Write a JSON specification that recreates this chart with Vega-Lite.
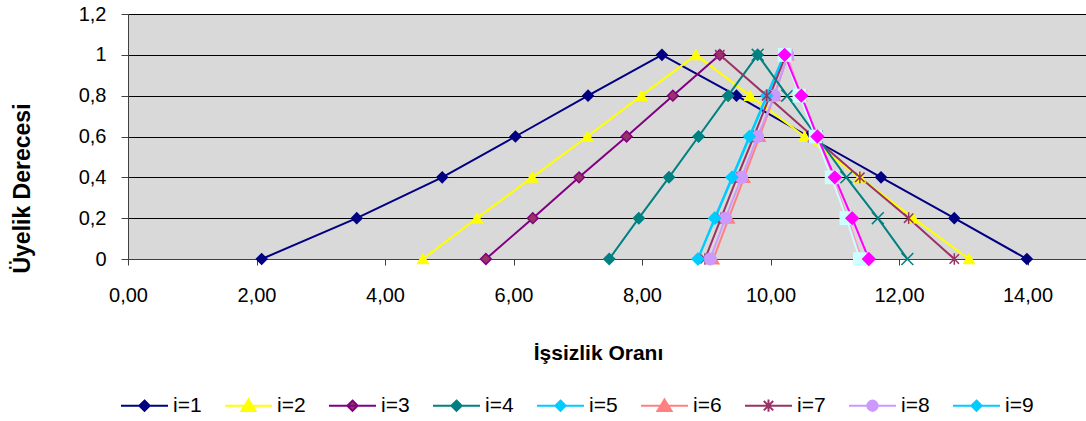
{
  "$schema": "https://vega.github.io/schema/vega-lite/v6.json",
  "width": 958,
  "height": 245,
  "autosize": {"type": "none"},
  "padding": {"left": 128, "top": 14, "right": 0, "bottom": 162},
  "background": "white",
  "config": {
    "view": {"fill": "#d9d9d9", "stroke": null},
    "font": "Liberation Sans"
  },
  "data": {
    "values": [
      {"s": "i=1", "x": 2.08, "y": 0}, {"s": "i=1", "x": 3.56, "y": 0.2}, {"s": "i=1", "x": 4.89, "y": 0.4}, {"s": "i=1", "x": 6.03, "y": 0.6}, {"s": "i=1", "x": 7.16, "y": 0.8}, {"s": "i=1", "x": 8.31, "y": 1}, {"s": "i=1", "x": 9.47, "y": 0.8}, {"s": "i=1", "x": 10.59, "y": 0.6}, {"s": "i=1", "x": 11.72, "y": 0.4}, {"s": "i=1", "x": 12.86, "y": 0.2}, {"s": "i=1", "x": 13.99, "y": 0},
      {"s": "i=2", "x": 4.59, "y": 0}, {"s": "i=2", "x": 5.43, "y": 0.2}, {"s": "i=2", "x": 6.29, "y": 0.4}, {"s": "i=2", "x": 7.15, "y": 0.6}, {"s": "i=2", "x": 7.99, "y": 0.8}, {"s": "i=2", "x": 8.84, "y": 1}, {"s": "i=2", "x": 9.68, "y": 0.8}, {"s": "i=2", "x": 10.53, "y": 0.6}, {"s": "i=2", "x": 11.39, "y": 0.4}, {"s": "i=2", "x": 12.22, "y": 0.2}, {"s": "i=2", "x": 13.09, "y": 0},
      {"s": "i=3", "x": 5.57, "y": 0}, {"s": "i=3", "x": 6.30, "y": 0.2}, {"s": "i=3", "x": 7.02, "y": 0.4}, {"s": "i=3", "x": 7.76, "y": 0.6}, {"s": "i=3", "x": 8.48, "y": 0.8}, {"s": "i=3", "x": 9.21, "y": 1},
      {"s": "i=4", "x": 7.49, "y": 0}, {"s": "i=4", "x": 7.95, "y": 0.2}, {"s": "i=4", "x": 8.42, "y": 0.4}, {"s": "i=4", "x": 8.88, "y": 0.6}, {"s": "i=4", "x": 9.34, "y": 0.8}, {"s": "i=4", "x": 9.80, "y": 1},
      {"s": "i=5", "x": 8.87, "y": 0}, {"s": "i=5", "x": 9.14, "y": 0.2}, {"s": "i=5", "x": 9.41, "y": 0.4}, {"s": "i=5", "x": 9.68, "y": 0.6}, {"s": "i=5", "x": 9.95, "y": 0.8}, {"s": "i=5", "x": 10.22, "y": 1},
      {"s": "i=6", "x": 9.11, "y": 0}, {"s": "i=6", "x": 9.35, "y": 0.2}, {"s": "i=6", "x": 9.59, "y": 0.4}, {"s": "i=6", "x": 9.83, "y": 0.6}, {"s": "i=6", "x": 10.06, "y": 0.8}, {"s": "i=6", "x": 10.27, "y": 1},
      {"s": "i=7", "x": 8.98, "y": 0}, {"s": "i=7", "x": 9.23, "y": 0.2}, {"s": "i=7", "x": 9.48, "y": 0.4}, {"s": "i=7", "x": 9.74, "y": 0.6}, {"s": "i=7", "x": 9.99, "y": 0.8}, {"s": "i=7", "x": 10.24, "y": 1},
      {"s": "i=8", "x": 9.06, "y": 0}, {"s": "i=8", "x": 9.30, "y": 0.2}, {"s": "i=8", "x": 9.55, "y": 0.4}, {"s": "i=8", "x": 9.80, "y": 0.6}, {"s": "i=8", "x": 10.06, "y": 0.8}, {"s": "i=8", "x": 10.27, "y": 1},
      {"s": "i=9", "x": 8.87, "y": 0}, {"s": "i=9", "x": 9.13, "y": 0.2}, {"s": "i=9", "x": 9.40, "y": 0.4}, {"s": "i=9", "x": 9.67, "y": 0.6}, {"s": "i=9", "x": 9.94, "y": 0.8}, {"s": "i=9", "x": 10.21, "y": 1},
      {"s": "r3", "x": 9.21, "y": 1}, {"s": "r3", "x": 9.94, "y": 0.8}, {"s": "r3", "x": 10.66, "y": 0.6}, {"s": "r3", "x": 11.39, "y": 0.4}, {"s": "r3", "x": 12.15, "y": 0.2}, {"s": "r3", "x": 12.86, "y": 0},
      {"s": "r4", "x": 9.80, "y": 1}, {"s": "r4", "x": 10.26, "y": 0.8}, {"s": "r4", "x": 10.72, "y": 0.6}, {"s": "r4", "x": 11.18, "y": 0.4}, {"s": "r4", "x": 11.67, "y": 0.2}, {"s": "r4", "x": 12.13, "y": 0},
      {"s": "r7", "x": 10.25, "y": 1}, {"s": "r7", "x": 10.48, "y": 0.8}, {"s": "r7", "x": 10.71, "y": 0.6}, {"s": "r7", "x": 10.97, "y": 0.4}, {"s": "r7", "x": 11.20, "y": 0.2}, {"s": "r7", "x": 11.42, "y": 0},
      {"s": "r6", "x": 10.22, "y": 1}, {"s": "r6", "x": 10.45, "y": 0.8}, {"s": "r6", "x": 10.70, "y": 0.6}, {"s": "r6", "x": 10.95, "y": 0.4}, {"s": "r6", "x": 11.18, "y": 0.2}, {"s": "r6", "x": 11.39, "y": 0},
      {"s": "r5", "x": 10.22, "y": 1}, {"s": "r5", "x": 10.48, "y": 0.8}, {"s": "r5", "x": 10.73, "y": 0.6}, {"s": "r5", "x": 11.00, "y": 0.4}, {"s": "r5", "x": 11.27, "y": 0.2}, {"s": "r5", "x": 11.53, "y": 0}
    ]
  },
  "encoding": {
    "x": {
      "field": "x", "type": "quantitative",
      "scale": {"domain": [0, 14.91], "nice": false, "zero": false},
      "axis": {
        "title": "İşsizlik Oranı",
        "values": [0, 2, 4, 6, 8, 10, 12, 14],
        "labelExpr": "replace(format(datum.value, '.2f'), '.', ',')",
        "grid": false,
        "domainColor": "#404040", "tickColor": "#404040", "tickSize": 6,
        "labelFontSize": 20, "labelColor": "#000000", "labelPadding": 20,
        "labelFlush": false,
        "titleFontSize": 21, "titleFontWeight": "bold", "titleColor": "#000000",
        "titleX": 470, "titleY": 100, "titleBaseline": "alphabetic", "titleAnchor": "middle"
      }
    },
    "y": {
      "field": "y", "type": "quantitative",
      "scale": {"domain": [0, 1.2], "nice": false},
      "axis": {
        "title": "Üyelik Derecesi",
        "values": [0, 0.2, 0.4, 0.6, 0.8, 1, 1.2],
        "labelExpr": "replace(format(datum.value, '.1~f'), '.', ',')",
        "grid": true, "gridColor": "#000000", "gridWidth": 1, "gridOpacity": 1,
        "domainColor": "#404040", "tickColor": "#404040", "tickSize": 7,
        "labelFontSize": 20, "labelColor": "#000000", "labelPadding": 15,
        "titleFontSize": 23, "titleFontWeight": "bold", "titleColor": "#000000",
        "titleX": -99, "titleY": 174, "titleAngle": -90, "titleBaseline": "alphabetic", "titleAlign": "center"
      }
    }
  },
  "layer": [
    {
      "mark": {"type": "line", "strokeWidth": 2},
      "encoding": {
        "stroke": {
          "field": "s", "type": "nominal", "legend": null,
          "scale": {
            "domain": ["i=1", "i=2", "i=3", "i=4", "i=5", "i=6", "i=7", "i=8", "i=9", "r3", "r4", "r7", "r6", "r5"],
            "range": ["#000080", "#FFFF00", "#800080", "#008080", "#00CCFF", "#FF8080", "#993366", "#CC99FF", "#00CCFF", "#993366", "#008080", "#FF99CC", "#CCFFFF", "#FF00FF"]
          }
        }
      }
    },
    {
      "mark": {"type": "point", "filled": true, "opacity": 1, "strokeWidth": 1.5},
      "encoding": {
        "stroke": {"field": "s", "type": "nominal", "legend": null},
        "size": {
          "field": "s", "type": "nominal", "legend": null,
          "scale": {
            "domain": ["i=1", "i=2", "i=3", "i=4", "i=5", "i=6", "i=7", "i=8", "i=9", "r3", "r4", "r7", "r6", "r5"],
            "range": [110, 150, 110, 110, 110, 150, 120, 120, 110, 120, 110, 110, 100, 110]
          }
        },
        "shape": {
          "field": "s", "type": "nominal", "legend": null,
          "scale": {
            "domain": ["i=1", "i=2", "i=3", "i=4", "i=5", "i=6", "i=7", "i=8", "i=9", "r3", "r4", "r7", "r6", "r5"],
            "range": ["diamond", "triangle-up", "diamond", "diamond", "diamond", "triangle-up", "M-0.8,-0.8L0.8,0.8M-0.8,0.8L0.8,-0.8M0,-1V1", "circle", "diamond", "M-0.8,-0.8L0.8,0.8M-0.8,0.8L0.8,-0.8M0,-1V1", "M-1,-1L1,1M-1,1L1,-1", "M-1,-1L1,1M-1,1L1,-1", "square", "diamond"]
          }
        },
        "fill": {
          "field": "s", "type": "nominal",
          "scale": {
            "domain": ["r5", "r6", "r7", "r4", "r3", "i=1", "i=2", "i=3", "i=4", "i=5", "i=6", "i=7", "i=8", "i=9"],
            "range": ["#FF00FF", "#CCFFFF", "#FF99CC", "#008080", "#993366", "#000080", "#FFFF00", "#993366", "#008080", "#00CCFF", "#FF8080", "#993366", "#CC99FF", "#00CCFF"]
          },
          "legend": {
            "title": null,
            "values": ["i=1", "i=2", "i=3", "i=4", "i=5", "i=6", "i=7", "i=8", "i=9"],
            "orient": "none", "direction": "horizontal", "columns": 9,
            "legendX": -8, "legendY": 367,
            "padding": 0,
            "symbolSize": 2209, "symbolStrokeWidth": 2, "symbolOpacity": 1,
            "labelFontSize": 21, "labelColor": "#000000", "labelOffset": 4,
            "columnPadding": 19,
            "encode": {
              "symbols": {
                "update": {
                  "shape": {"signal": "indexof(['i=2','i=6'], datum.value) >= 0 ? 'M-1,0H1M0,-0.27L0.3,0.22L-0.3,0.22Z' : datum.value == 'i=7' ? 'M-1,0H1M-0.2,-0.2L0.2,0.2M-0.2,0.2L0.2,-0.2M0,-0.26V0.26' : datum.value == 'i=8' ? 'M-1,0H1M-0.22,0A0.22,0.22,0,1,0,0.22,0A0.22,0.22,0,1,0,-0.22,0Z' : 'M-1,0H1M0,-0.22L0.22,0L0,0.22L-0.22,0Z'"},
                  "stroke": {"scale": "stroke", "field": "value"},
                  "strokeWidth": {"value": 2},
                  "opacity": {"value": 1}
                }
              }
            }
          }
        }
      }
    }
  ]
}
